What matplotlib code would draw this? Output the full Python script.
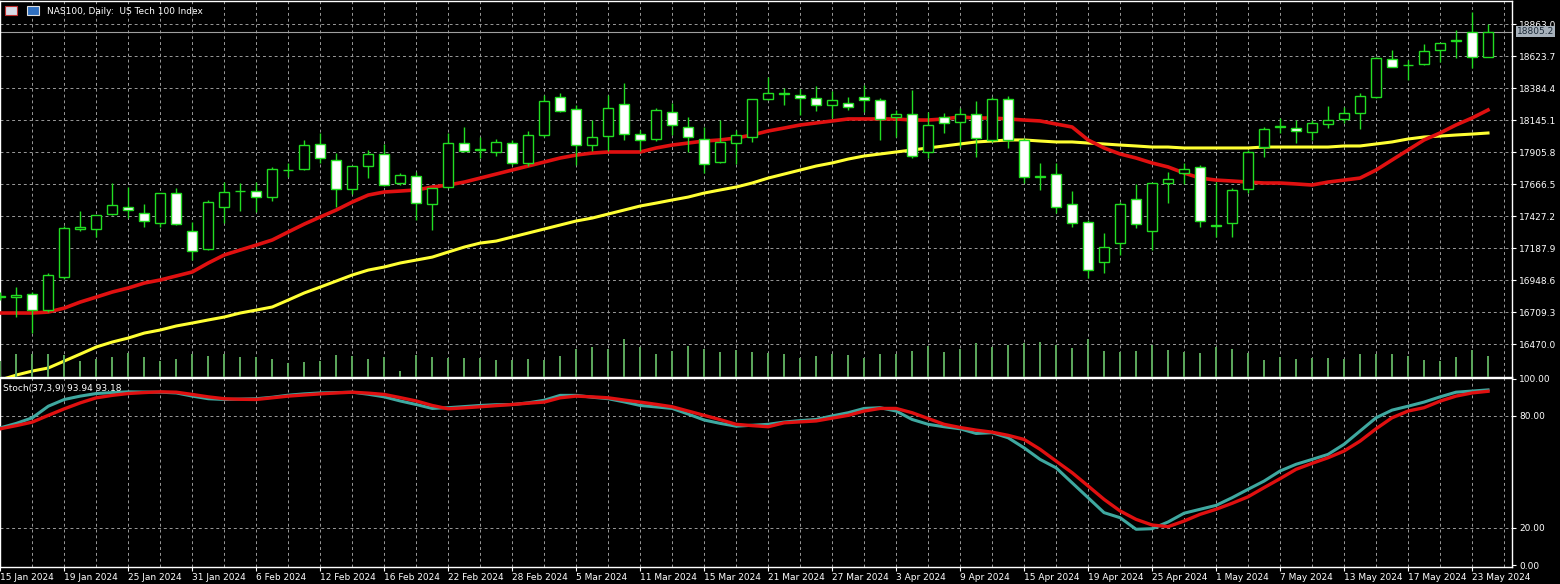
import matplotlib
matplotlib.use("Agg")
import matplotlib.pyplot as plt
import numpy as np

# ---------------- data ----------------
dates = ["15 Jan 2024","19 Jan 2024","25 Jan 2024","31 Jan 2024","6 Feb 2024","12 Feb 2024",
         "16 Feb 2024","22 Feb 2024","28 Feb 2024","5 Mar 2024","11 Mar 2024","15 Mar 2024",
         "21 Mar 2024","27 Mar 2024","3 Apr 2024","9 Apr 2024","15 Apr 2024","19 Apr 2024",
         "25 Apr 2024","1 May 2024","7 May 2024","13 May 2024","17 May 2024","23 May 2024"]

ohlc = [
 (16821,16859,16799,16829),(16821,16896,16672,16836),(16844,16859,16552,16724),(16724,17001,16709,16986),
 (16971,17353,16956,17338),(17330,17465,17315,17345),(17330,17435,17270,17435),(17442,17674,17435,17510),
 (17495,17644,17412,17472),(17450,17517,17345,17390),(17375,17599,17345,17599),(17599,17637,17360,17367),
 (17315,17382,17098,17166),(17180,17547,17173,17532),(17495,17681,17375,17607),(17614,17674,17465,17614),
 (17614,17681,17457,17569),(17569,17794,17540,17779),(17771,17824,17719,17775),(17779,17996,17771,17958),
 (17966,18048,17823,17861),(17846,17898,17495,17629),(17629,17697,17592,17801),(17801,17921,17711,17891),
 (17891,17966,17652,17659),(17674,17749,17659,17734),(17726,17756,17397,17525),(17517,17637,17323,17637),
 (17644,18048,17637,17973),(17973,18093,17906,17913),(17921,18018,17861,17925),(17906,18003,17876,17981),
 (17973,17996,17809,17824),(17824,18063,17801,18033),(18033,18332,18018,18287),(18317,18347,18205,18212),
 (18227,18257,17809,17958),(17958,18145,17913,18018),(18025,18332,17913,18235),(18265,18422,17996,18040),
 (18040,18070,17913,17996),(18003,18235,17988,18220),(18205,18272,18033,18108),(18093,18168,17906,18018),
 (18003,18093,17749,17816),(17831,18145,17824,17981),(17973,18070,17816,18033),(18018,18302,17981,18302),
 (18302,18467,18295,18347),(18340,18385,18257,18344),(18332,18377,18183,18310),(18310,18399,18212,18257),
 (18257,18362,18160,18295),(18272,18317,18220,18242),(18317,18407,18205,18295),(18295,18310,17996,18153),
 (18168,18220,18018,18190),(18190,18370,17861,17876),(17906,18205,17861,18108),(18168,18198,18048,18123),
 (18130,18235,17943,18190),(18190,18287,17869,18011),(17996,18317,17981,18302),(18302,18325,17936,17996),
 (17996,18011,17674,17719),(17719,17824,17622,17723),(17741,17824,17450,17495),(17517,17614,17345,17375),
 (17382,17397,16964,17024),(17083,17300,17001,17195),(17225,17532,17136,17517),(17554,17667,17338,17367),
 (17315,17674,17173,17674),(17674,17756,17525,17704),(17749,17824,17667,17779),(17794,17809,17345,17390),
 (17353,17681,17270,17357),(17375,17637,17270,17622),(17629,17921,17599,17906),(17943,18093,17869,18078),
 (18093,18160,18048,18097),(18085,18145,17973,18063),(18055,18145,17996,18123),(18115,18250,18085,18145),
 (18153,18242,18123,18198),(18198,18347,18078,18325),(18317,18616,18310,18609),(18601,18669,18541,18541),
 (18556,18594,18444,18560),(18564,18714,18556,18661),(18669,18721,18579,18721),(18736,18818,18609,18740),
 (18803,18953,18534,18616),(18616,18863,18616,18805.2)]

volume = [16,23,23,23,22,16,18,20,24,20,16,18,23,21,23,20,20,18,14,15,16,22,21,18,20,6,22,20,19,19,
          19,17,17,18,17,21,28,30,28,38,30,23,26,31,28,25,27,25,24,23,19,21,23,22,19,23,23,26,31,25,
          28,34,30,32,34,35,32,29,38,26,25,26,32,27,25,24,30,28,24,17,20,18,19,19,18,23,23,23,21,17,
          16,20,27,21]

ma_red = [16702,16702,16702,16709,16739,16784,16821,16859,16889,16926,
          16949,16979,17009,17076,17136,17173,17210,17248,17308,17367,
          17420,17472,17532,17584,17607,17614,17622,17644,17659,17681,
          17711,17741,17771,17801,17831,17861,17883,17898,17906,17906,
          17906,17936,17958,17973,17988,17996,18011,18033,18063,18085,
          18108,18123,18138,18153,18153,18153,18153,18145,18145,18153,
          18168,18160,18160,18153,18145,18138,18115,18093,17996,17936,
          17891,17861,17824,17794,17749,17711,17696,17689,17681,17674,
          17674,17667,17659,17681,17696,17711,17771,17846,17921,17996,
          18048,18108,18160,18220]

ma_yellow = [16201,16238,16268,16291,16343,16395,16448,16485,16515,16552,
             16575,16605,16627,16650,16672,16702,16724,16747,16799,16852,
             16896,16941,16986,17023,17046,17076,17098,17120,17158,17195,
             17225,17240,17270,17300,17330,17360,17390,17412,17442,17472,
             17502,17524,17547,17569,17599,17622,17644,17674,17711,17741,
             17771,17801,17824,17853,17876,17891,17906,17921,17936,17951,
             17966,17981,17988,17996,17996,17988,17981,17981,17973,17966,
             17958,17951,17943,17943,17936,17936,17936,17936,17936,17943,
             17943,17943,17943,17943,17951,17951,17966,17981,18003,18018,
             18025,18033,18040,18048]

stoch_main = [73.6,76,79,85.2,88.8,90.6,92,92.5,92.9,92.8,92.7,92.3,90.6,89.2,88.8,89,89.2,90,91.1,91.8,
              92.3,92.5,92.7,91.6,90.2,88,86.1,84,84.4,85,85.6,86,86.1,87,88.4,91,91,90,89.2,87.5,
              85.6,84.8,84,81,77.8,76,74.5,75,75.5,76.7,77.5,78.1,80,81.7,84,84.4,82.6,78.1,75.5,74.2,
              73.1,70.6,71,68.3,62.9,56.7,52.2,44.2,36.2,28.2,25.5,19.3,19.6,23.2,27.9,30,32.1,36.2,40.7,45.1,
              50.5,54.1,56.7,59.4,64.8,71.9,79,83.1,85.2,87.4,90.2,92.7,93.3,93.94]
stoch_signal = [73.1,74.8,76.7,80.3,83.8,87,89.7,91,92,92.5,92.9,92.7,91.5,90.2,89.2,88.9,88.8,89.7,90.6,91.2,
                91.8,92.3,92.7,92.2,91.5,89.8,88,85.6,83.8,84.3,84.9,85.5,86.1,86.8,87.4,89.7,90.6,90.2,89.7,88.5,
                87.4,86.2,84.9,82.6,80.3,78,75.5,74.8,74.2,76.3,76.8,77.3,78.8,80.3,82.6,84,84,81.7,78.6,75.5,
                73.8,72.4,71.3,69.6,67.4,62.1,55.8,49.6,42.5,35.3,29.1,24.6,21.6,20.7,23.7,27.3,30,33.2,36.7,41.6,
                46.4,51.4,54.6,57.6,61.2,66.5,73.1,79,82.6,84.4,87.9,90.6,92.3,93.18]

price_ticks = [16470.0,16709.3,16948.6,17187.9,17427.2,17666.5,17905.8,18145.1,18384.4,18623.7,18863.0]
stoch_ticks = [0,20,80,100]
last_price = 18805.2

# ---------------- figure ----------------
W, H = 1560, 584
FS = 6.5
fig = plt.figure(figsize=(W/100, H/100), dpi=100, facecolor="black")
axw = 1512/W
ax = fig.add_axes([0, 1-377/H, axw, 376/H], facecolor="black")
axs = fig.add_axes([0, 1-567/H, axw, 189/H], facecolor="black", sharex=ax)

n = len(ohlc)
idx = np.arange(n)
O = np.array([c[0] for c in ohlc]); Hh = np.array([c[1] for c in ohlc])
L = np.array([c[2] for c in ohlc]); C = np.array([c[3] for c in ohlc])

grid_kw = dict(color="#9a9a9a", lw=0.7, ls=(0, (3, 3)), zorder=0)
for a in (ax, axs):
    for xg in range(0, n+2, 2):
        a.axvline(xg, **grid_kw)
for p in price_ticks:
    ax.axhline(p, **grid_kw)
for s in (20, 80):
    axs.axhline(s, **grid_kw)

# volume
axv = ax.twinx()
axv.set_ylim(0, 376)
axv.bar(idx, volume, width=0.12, color="#5aa55a", zorder=1)
axv.set_yticks([])
for sp in axv.spines.values():
    sp.set_visible(False)

# MAs
ax.plot(idx, ma_yellow, color="#ffff33", lw=2.2, zorder=3)
ax.plot(idx, ma_red, color="#e01010", lw=2.6, zorder=3)

# candles
green = "#22dd22"
ax.vlines(idx, L, Hh, color=green, lw=1, zorder=4)
bull = C >= O
body_lo = np.minimum(O, C)
body_h = np.maximum(np.abs(C - O), 4)
ax.bar(idx[bull], body_h[bull], bottom=body_lo[bull], width=0.62,
       facecolor="black", edgecolor=green, lw=1, zorder=5)
ax.bar(idx[~bull], body_h[~bull], bottom=body_lo[~bull], width=0.62,
       facecolor="white", edgecolor=green, lw=1, zorder=5)

ax.axhline(last_price, color="#a0a0a0", lw=0.8, zorder=2)

ax.set_xlim(-0.02, 1512/16)
ax.set_ylim(16223.5, 19035)
ax.yaxis.tick_right()
ax.set_yticks(price_ticks)
ax.set_yticklabels([f"{p:.1f}" for p in price_ticks])
ax.tick_params(axis="y", colors="white", labelsize=FS, length=3, pad=2)
ax.tick_params(axis="x", bottom=False, labelbottom=False)
ax.text(1.003, (last_price-16223.5)/(19035-16223.5), f"{last_price:.1f}", transform=ax.transAxes,
        fontsize=FS, color="#1c2a38", va="center", ha="left",
        bbox=dict(boxstyle="square,pad=0.1", facecolor="#a7b1bb", edgecolor="none"), zorder=10, clip_on=False)

# stochastic
axs.plot(idx, stoch_main, color="#3fa8a0", lw=2.2, zorder=3)
axs.plot(idx, stoch_signal, color="#e01010", lw=2.4, zorder=4)
axs.set_ylim(-0.9, 100.3)
axs.yaxis.tick_right()
axs.set_yticks(stoch_ticks)
axs.set_yticklabels([f"{s:.2f}" for s in stoch_ticks])
axs.tick_params(axis="y", colors="white", labelsize=FS, length=3, pad=2)
axs.set_xticks(list(range(0, 4*len(dates), 4)))
axs.set_xticklabels(dates)
axs.tick_params(axis="x", colors="white", labelsize=FS, length=3, pad=1)
for lbl in axs.get_xticklabels():
    lbl.set_ha("left")

for a in (ax, axs):
    for sp in a.spines.values():
        sp.set_color("white"); sp.set_linewidth(1)

fig.text(47/W, 1-11/H, "NAS100, Daily:  US Tech 100 Index", color="white", fontsize=FS, va="center")
fig.patches.append(plt.Rectangle((5/W, 1-15/H), 12/W, 9/H, transform=fig.transFigure,
                                 facecolor="#d8dce8", edgecolor="#c03030", lw=0.8))
fig.patches.append(plt.Rectangle((27/W, 1-15/H), 12/W, 9/H, transform=fig.transFigure,
                                 facecolor="#3070c0", edgecolor="#e0e0e0", lw=0.8))
axs.text(0.002, 0.97, "Stoch(37,3,9) 93.94 93.18", transform=axs.transAxes, color="white",
         fontsize=FS, va="top", ha="left")

fig.savefig("out.png", dpi=100, facecolor="black")
